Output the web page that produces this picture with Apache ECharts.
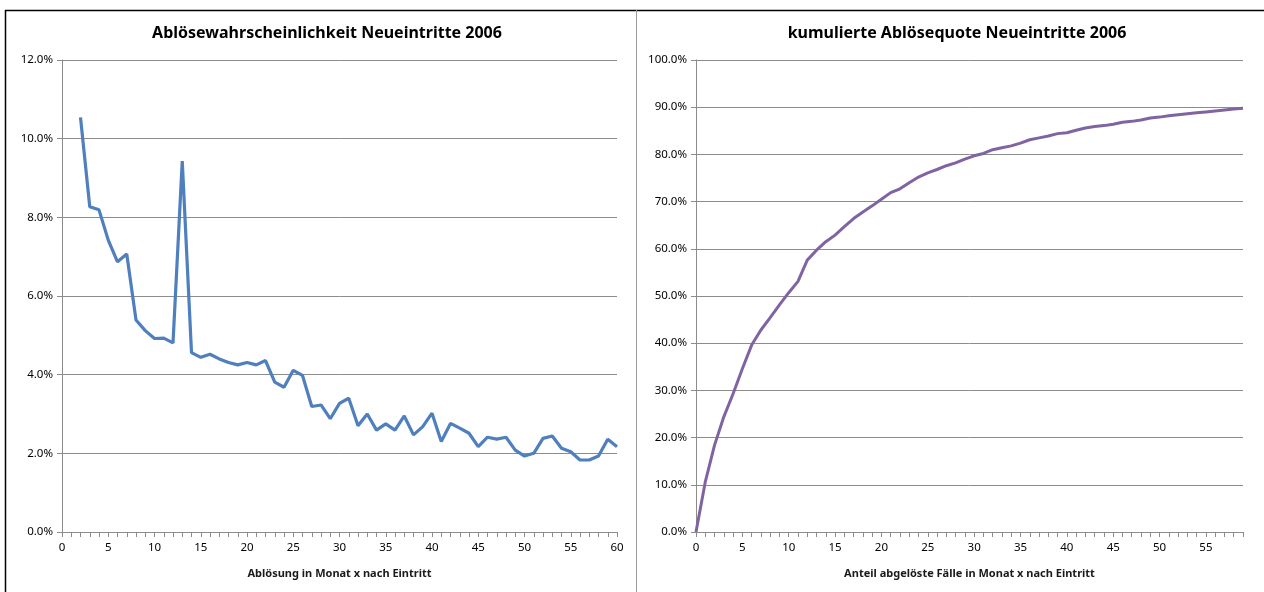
<!DOCTYPE html>
<html>
<head>
<meta charset="utf-8">
<script src="https://cdn.jsdelivr.net/npm/echarts@6/dist/echarts.min.js"></script>
<style>
html,body{margin:0;padding:0;background:#fff;}
#c{width:1264px;height:592px;}
</style>
</head>
<body>
<div id="c"></div>
<script>
// ---- data ----
const leftTitle = 'Ablösewahrscheinlichkeit Neueintritte 2006';
const rightTitle = 'kumulierte Ablösequote Neueintritte 2006';
const leftXName = 'Ablösung in Monat x nach Eintritt';
const rightXName = 'Anteil abgelöste Fälle in Monat x nach Eintritt';

// months 0..60 (left), values in percent; months 0 and 1 have no value
const leftMonths = Array.from({length: 61}, (_, i) => String(i));
const leftValues = [null, null,
  10.54, 8.27, 8.19, 7.42, 6.87, 7.07, 5.39, 5.12, 4.92, 4.93,
  4.81, 9.43, 4.56, 4.44, 4.52, 4.40, 4.31, 4.25, 4.31, 4.25,
  4.36, 3.81, 3.68, 4.11, 3.98, 3.19, 3.23, 2.88, 3.27, 3.40,
  2.70, 3.00, 2.59, 2.75, 2.59, 2.95, 2.47, 2.68, 3.02, 2.30,
  2.76, 2.64, 2.51, 2.17, 2.41, 2.36, 2.41, 2.08, 1.93, 2.00,
  2.38, 2.44, 2.13, 2.04, 1.83, 1.83, 1.93, 2.36, 2.17];

// months 0..59 (right), cumulative percent
const rightMonths = Array.from({length: 60}, (_, i) => String(i));
const rightValues = [
  0.0, 10.6, 18.4, 24.4, 29.3, 34.6, 39.6, 42.8, 45.4, 48.1,
  50.7, 53.1, 57.6, 59.7, 61.5, 62.9, 64.7, 66.4, 67.8, 69.1,
  70.5, 71.9, 72.7, 74.0, 75.2, 76.1, 76.8, 77.6, 78.2, 79.0,
  79.7, 80.2, 81.0, 81.4, 81.8, 82.4, 83.1, 83.5, 83.9, 84.4,
  84.6, 85.1, 85.6, 85.9, 86.1, 86.4, 86.8, 87.0, 87.3, 87.7,
  87.9, 88.2, 88.4, 88.6, 88.8, 89.0, 89.2, 89.4, 89.6, 89.8];

// ---- chart ----
const FONT = '"Noto Sans", "Open Sans", sans-serif';
const gridColor = '#8c8c8c';
const chart = echarts.init(document.getElementById('c'), null, {renderer: 'canvas'});

function xAxis(idx, cats, name) {
  return {
    type: 'category', gridIndex: idx, data: cats, boundaryGap: false,
    name: name, nameLocation: 'middle', nameGap: 36,
    nameTextStyle: {fontFamily: FONT, fontSize: 11, fontWeight: 'bold', color: '#1a1a1a'},
    axisLine: {lineStyle: {color: gridColor, width: 1}},
    axisTick: {show: true, interval: 0, length: 5, lineStyle: {color: gridColor}},
    axisLabel: {interval: 4, fontFamily: FONT, fontSize: 11.5, color: '#000', margin: 10},
    splitLine: {show: false}
  };
}
function yAxis(idx, max, interval) {
  return {
    type: 'value', gridIndex: idx, min: 0, max: max, interval: interval,
    axisLine: {show: true, lineStyle: {color: gridColor, width: 1}},
    axisTick: {show: true, length: 5, lineStyle: {color: gridColor}},
    axisLabel: {fontFamily: FONT, fontSize: 11.5, color: '#000', margin: 9,
      formatter: v => v.toFixed(1) + '%'},
    splitLine: {show: true, lineStyle: {color: gridColor, width: 1}}
  };
}

chart.setOption({
  backgroundColor: '#fff',
  animation: false,
  title: [
    {text: leftTitle, left: 322, top: 20, textAlign: 'center',
      textStyle: {fontFamily: FONT, fontSize: 16, fontWeight: 'bold', color: '#000'}},
    {text: rightTitle, left: 952, top: 20, textAlign: 'center',
      textStyle: {fontFamily: FONT, fontSize: 16, fontWeight: 'bold', color: '#000'}}
  ],
  grid: [
    {left: 62, right: 647, top: 60, bottom: 60},
    {left: 696, right: 21, top: 60, bottom: 60}
  ],
  xAxis: [xAxis(0, leftMonths, leftXName), xAxis(1, rightMonths, rightXName)],
  yAxis: [yAxis(0, 12, 2), yAxis(1, 100, 10)],
  series: [
    {type: 'line', xAxisIndex: 0, yAxisIndex: 0, data: leftValues, showSymbol: false,
      lineStyle: {color: '#4f7fbd', width: 3.2}, connectNulls: false},
    {type: 'line', xAxisIndex: 1, yAxisIndex: 1, data: rightValues, showSymbol: false,
      lineStyle: {color: '#8064a2', width: 3}}
  ],
  graphic: [
    {type: 'line', shape: {x1: 5, y1: 10.5, x2: 1264, y2: 10.5}, style: {stroke: '#000', lineWidth: 1.5}},
    {type: 'line', shape: {x1: 5.5, y1: 10, x2: 5.5, y2: 592}, style: {stroke: '#000', lineWidth: 1.5}},
    {type: 'line', shape: {x1: 636.5, y1: 10, x2: 636.5, y2: 592}, style: {stroke: '#9a9a9a', lineWidth: 1}}
  ]
});
</script>
</body>
</html>
